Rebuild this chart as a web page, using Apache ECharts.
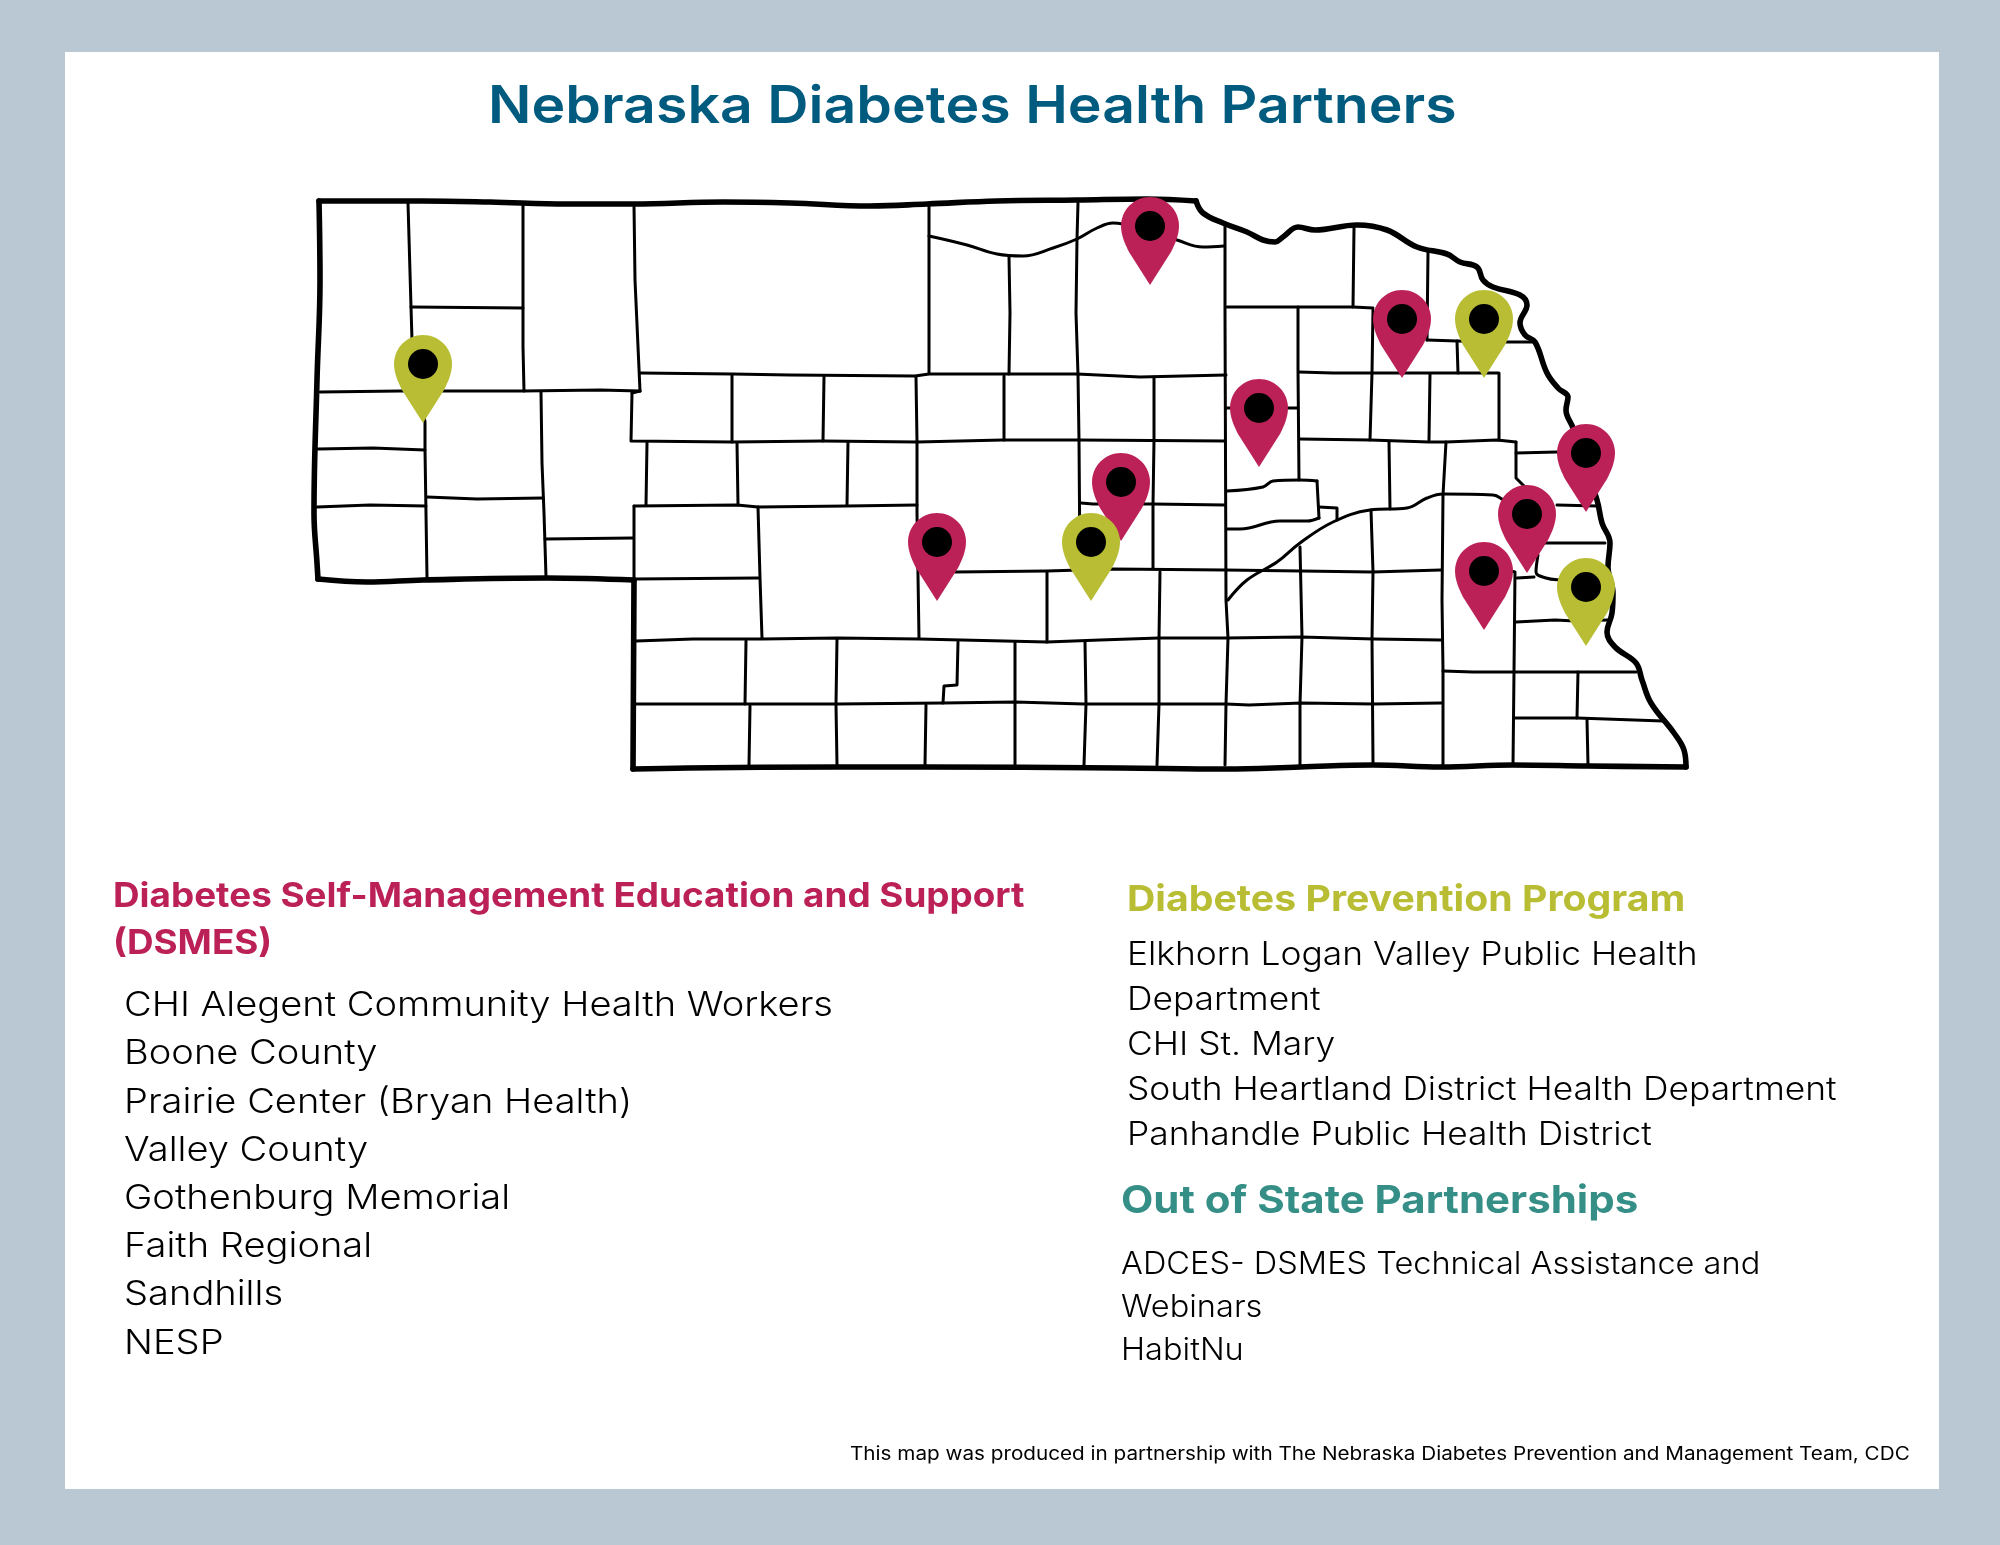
<!DOCTYPE html>
<html>
<head>
<meta charset="utf-8">
<title>Nebraska Diabetes Health Partners</title>
<script src="https://cdn.jsdelivr.net/npm/echarts@6/dist/echarts.min.js"></script>
<style>
html,body{margin:0;padding:0;background:#bac8d3;}
#chart{width:2000px;height:1545px;}
</style>
</head>
<body>
<div id="chart"></div>
<script>
// state border, split at the sharp corners
let borderTop=[[319,201],[423,201],[490,202],[567,204],[633,204],[723,202],[790,203],[870,206],[927,204],[997,201],[1077,200],[1147,199],[1196,201]];
let borderRiver=[[1196,201],[1203,213],[1223,223],[1247,232],[1263,240],[1275,242],[1283,237],[1298,227],[1315,230],[1357,225],[1387,230],[1417,247],[1447,254],[1460,262],[1477,267],[1483,280],[1493,287],[1520,295],[1527,305],[1520,323],[1525,335],[1535,342],[1547,373],[1558,388],[1568,397],[1566,410],[1573,428],[1597,500],[1602,523],[1610,543],[1608,567],[1613,593],[1612,613],[1607,632],[1615,647],[1636,663],[1642,680],[1651,703],[1674,733],[1684,750],[1686,767]];
let borderBottom=[[1686,767],[1588,766],[1513,765],[1441,767],[1373,765],[1300,767],[1226,769],[1120,768],[925,767],[837,767],[687,768],[633,769]];
let borderStep=[[633,769],[634,580]];
let borderPanhandle=[[634,580],[547,578],[423,580],[367,582],[318,579]];
let borderWest=[[318,579],[317,563],[314,513],[317,380],[320,280],[319,201]];

// county lines, straight
let countyLines=[
[[408,203],[411,307],[412,340],[425,422],[425,450],[427,577]],
[[411,307],[523,308]],
[[523,205],[523,280],[523,347],[524,391]],
[[320,392],[400,391],[447,391],[523,391],[600,390],[640,391]],
[[634,205],[635,280],[640,391]],
[[640,391],[632,393]],
[[541,392],[542,463],[544,513],[546,577]],
[[318,449],[373,448],[425,450]],
[[317,507],[370,505],[426,506]],
[[427,497],[477,499],[543,498]],
[[545,539],[633,538]],
[[634,506],[634,580]],
[[640,373],[732,374],[790,375],[915,376],[929,374],[1077,374],[1140,377],[1226,375]],
[[632,393],[631,441],[732,442],[823,441],[917,442],[1003,440],[1078,440],[1225,441]],
[[732,375],[732,442]],
[[824,377],[823,441]],
[[916,377],[917,442]],
[[1004,376],[1004,440]],
[[1078,375],[1079,440],[1080,572]],
[[1154,377],[1154,440],[1153,505],[1153,568]],
[[647,443],[646,505]],
[[737,443],[738,505]],
[[848,442],[847,505]],
[[634,506],[737,505],[758,507],[847,506],[917,505]],
[[917,442],[917,513],[919,638]],
[[758,507],[760,578],[762,638]],
[[635,579],[758,578]],
[[636,641],[693,639],[762,639],[837,638],[919,639],[1047,642],[1100,640],[1159,638],[1226,638],[1301,637],[1374,639],[1441,640]],
[[1047,572],[1047,642]],
[[955,572],[1047,571],[1113,569],[1225,570],[1301,571],[1372,572],[1441,570]],
[[746,641],[745,704]],
[[837,639],[836,704]],
[[958,642],[957,685],[944,686],[943,703]],
[[636,704],[745,704],[837,704],[943,703],[1015,702],[1084,704],[1226,704],[1249,705],[1301,703],[1374,704],[1441,703]],
[[1015,643],[1015,702],[1015,765]],
[[1085,642],[1086,704],[1084,765]],
[[750,706],[749,765]],
[[836,705],[837,765]],
[[926,705],[925,765]],
[[929,206],[929,373]],
[[1009,257],[1010,313],[1009,374]],
[[1078,203],[1077,239],[1076,313],[1078,375]],
[[1225,225],[1225,313],[1226,600],[1228,638],[1226,704],[1225,765]],
[[1081,503],[1093,504],[1152,504],[1225,505]],
[[1227,307],[1298,307],[1353,307],[1373,308]],
[[1354,228],[1353,307]],
[[1227,408],[1297,408]],
[[1373,310],[1372,373],[1370,440]],
[[1298,307],[1298,370],[1299,480]],
[[1299,372],[1333,373],[1372,373],[1430,373],[1498,373]],
[[1428,252],[1427,340]],
[[1427,340],[1457,341],[1507,342],[1535,342]],
[[1457,341],[1458,373]],
[[1430,374],[1429,440]],
[[1499,373],[1499,440]],
[[1300,439],[1370,440],[1429,442],[1446,442],[1497,440],[1516,442]],
[[1389,442],[1390,509]],
[[1446,442],[1443,495],[1442,600],[1443,671],[1443,765]],
[[1516,442],[1516,478],[1525,487]],
[[1516,453],[1557,452]],
[[1317,481],[1319,518]],
[[1319,507],[1337,508],[1337,520]],
[[1557,505],[1597,506]],
[[1543,543],[1605,543]],
[[1511,571],[1515,572],[1514,672],[1513,765]],
[[1517,578],[1534,577]],
[[1516,622],[1555,620],[1575,621],[1607,620]],
[[1443,671],[1473,672],[1515,672],[1578,672],[1636,672]],
[[1578,672],[1577,718]],
[[1514,718],[1577,718],[1663,721]],
[[1587,720],[1588,765]],
[[1160,572],[1159,638],[1159,704],[1157,765]],
[[1300,547],[1302,637],[1300,704],[1300,765]],
[[1371,510],[1373,572],[1372,639],[1373,763]]
];
// county lines that follow a river
let countyCurves=[
[[929,236],[967,245],[997,254],[1023,256],[1053,248],[1077,239],[1097,228],[1113,223],[1140,228],[1177,240],[1203,247],[1224,246]],
[[1227,491],[1263,487],[1273,481],[1300,480],[1317,481]],
[[1319,518],[1307,521],[1280,521],[1240,529],[1227,529]],
[[1228,600],[1247,580],[1277,562],[1300,543],[1333,522],[1370,510],[1407,508],[1427,498],[1443,494],[1493,495],[1502,499],[1525,515]],
[[1538,555],[1536,572],[1546,578],[1560,580],[1600,582]]
];

// pin tips
let dsmesPins=[[1150,285],[1259,467],[1121,541],[937,601],[1402,378],[1586,512],[1527,573],[1484,630]];
let dppPins=[[423,423],[1091,601],[1484,378],[1586,646]];

let titleText="Nebraska Diabetes Health Partners";
let dsmesTitle=["Diabetes Self-Management Education and Support","(DSMES)"];
let dsmesList=["CHI Alegent Community Health Workers","Boone County","Prairie Center (Bryan Health)","Valley County","Gothenburg Memorial","Faith Regional","Sandhills","NESP"];
let dppTitle="Diabetes Prevention Program";
let dppList=["Elkhorn Logan Valley Public Health","Department","CHI St. Mary","South Heartland District Health Department","Panhandle Public Health District"];
let outTitle="Out of State Partnerships";
let outList=["ADCES- DSMES Technical Assistance and","Webinars","HabitNu"];
let footNote="This map was produced in partnership with The Nebraska Diabetes Prevention and Management Team, CDC";

let red="#bb2157";
let olive="#b8bd33";
let teal="#368f87";
let pinPath="path://M29 0C13 0 0 13 0 29C0 38 4 47 8 55L29 88L50 55C54 47 58 38 58 29C58 13 45 0 29 0Z";

function label(str,x,y,size,color,weight,sx){
    return {
        type:"text",x:x,y:y,scaleX:sx||1,z:10,silent:true,
        style:{text:str,fill:color,font:(weight||"normal")+" "+size+"px Inter",textVerticalAlign:"middle"}
    };
}

let texts=[];
texts.push({type:"rect",z:0,silent:true,shape:{x:65,y:52,width:1874,height:1437},style:{fill:"#fff"}});
texts.push(label(titleText,488,107,52,"#005b7f","600",1.10));
dsmesTitle.forEach(function(s,i){texts.push(label(s,113,897+i*47,34,red,"700",1.083));});
dsmesList.forEach(function(s,i){texts.push(label(s,124,1006+i*48.2,34,"#000","300",1.12));});
texts.push(label(dppTitle,1127,900,36,olive,"700",1.09));
dppList.forEach(function(s,i){texts.push(label(s,1127,955+i*45,32,"#000","300",1.105));});
texts.push(label(outTitle,1121,1202,38,teal,"700",1.105));
outList.forEach(function(s,i){texts.push(label(s,1121,1265+i*43,31,"#000","300",1.05));});
texts.push(label(footNote,850,1454,18.5,"#000","normal",1.118));

function lineSeries(pts,w,smooth){
    return {
        type:"line",data:pts,symbol:"none",silent:true,animation:false,z:2,smooth:smooth||false,
        lineStyle:{color:"#000",width:w,join:"round",cap:"round"}
    };
}
function pinSeries(pts,color,z){
    return [{
        type:"scatter",data:pts,symbol:pinPath,symbolSize:[58,88],symbolOffset:[0,"-50%"],
        itemStyle:{color:color,opacity:1},silent:true,animation:false,z:z
    },{
        type:"scatter",data:pts,symbol:"circle",symbolSize:30,symbolOffset:[0,-59],
        itemStyle:{color:"#000",opacity:1},silent:true,animation:false,z:z+1
    }];
}

let series=[];
for(let c of countyLines){
    series.push(lineSeries(c,3));
}
for(let c of countyCurves){
    series.push(lineSeries(c,3,0.4));
}
for(let b of [borderTop,borderRiver,borderBottom,borderPanhandle,borderWest]){
    series.push(lineSeries(b,5.6,0.4));
}
series.push(lineSeries(borderStep,5.6));
series=series.concat(pinSeries(dsmesPins,red,5));
series=series.concat(pinSeries(dppPins,olive,7));

let myChart=echarts.init(document.getElementById("chart"));
myChart.setOption({
    backgroundColor:"#bac8d3",
    animation:false,
    grid:{left:0,right:0,top:0,bottom:0},
    xAxis:{type:"value",min:0,max:2000,show:false},
    yAxis:{type:"value",min:0,max:1545,inverse:true,show:false},
    graphic:texts,
    series:series
});
</script>
</body>
</html>
